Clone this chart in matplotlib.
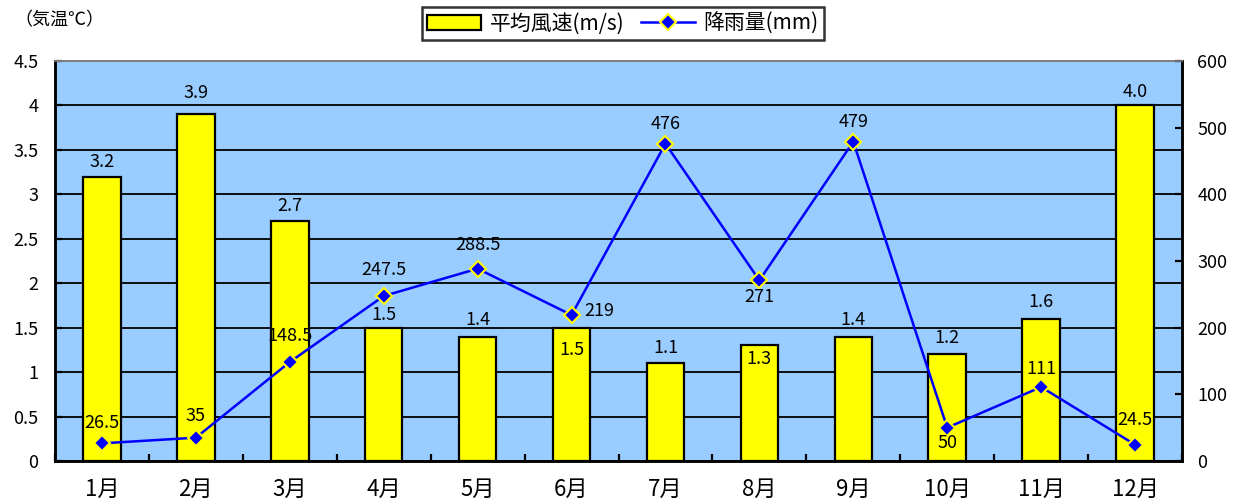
import matplotlib
matplotlib.use("Agg")
import matplotlib.pyplot as plt
import numpy as np

plt.rcParams['font.family'] = ['Noto Sans CJK JP', 'DejaVu Sans']

months = ["1月", "2月", "3月", "4月", "5月", "6月", "7月", "8月", "9月", "10月", "11月", "12月"]
wind = [3.2, 3.9, 2.7, 1.5, 1.4, 1.5, 1.1, 1.3, 1.4, 1.2, 1.6, 4.0]
rain = [26.5, 35, 148.5, 247.5, 288.5, 219, 476, 271, 479, 50, 111, 24.5]
wind_labels = ["3.2", "3.9", "2.7", "1.5", "1.4", "1.5", "1.1", "1.3", "1.4", "1.2", "1.6", "4.0"]
rain_labels = ["26.5", "35", "148.5", "247.5", "288.5", "219", "476", "271", "479", "50", "111", "24.5"]

# label offsets in pixels (dx, dy upward)
wind_off = [(0, 15), (0, 21), (0, 15), (0, 13), (0, 17), (0, -22), (0, 15), (0, -14), (0, 17), (0, 16), (0, 17), (0, 13)]
rain_off = [(0, 20), (0, 22), (0, 26), (0, 26), (0, 24), (28, 4), (0, 20), (0, -17), (0, 20), (0, -15), (0, 18), (0, 25)]

W, H = 1247, 504
fig = plt.figure(figsize=(W / 100, H / 100), dpi=100)
ax1 = fig.add_axes([55 / W, 1 - 461 / H, (1182 - 55) / W, (461 - 61) / H])
ax1.set_facecolor("#99CCFF")
ax2 = ax1.twinx()

x = np.arange(len(months))
px = 0.72  # points per pixel

ax1.set_axisbelow(True)
ax1.yaxis.grid(True, color="black", linewidth=1.3)
ax1.bar(x, wind, width=0.4, color="#FFFF00", edgecolor="black", linewidth=1.6,
        label="平均風速(m/s)", zorder=2)
ax1.set_xlim(-0.5, len(months) - 0.5)
ax1.set_ylim(0, 4.5)
ax1.set_yticks(np.arange(0, 4.51, 0.5))
ax1.set_yticklabels(["0", "0.5", "1", "1.5", "2", "2.5", "3", "3.5", "4", "4.5"])
ax1.set_xticks(x)
ax1.set_xticklabels(months)
ax1.set_xticks(np.arange(-0.5, len(months), 1), minor=True)
ax1.tick_params(axis="x", which="major", length=0, pad=12, labelsize=16)
ax1.tick_params(axis="x", which="minor", direction="in", length=5, width=1.6)
ax1.tick_params(axis="y", direction="in", length=5, width=1.6, pad=12, labelsize=13)

for i, (v, t) in enumerate(zip(wind, wind_labels)):
    dx, dy = wind_off[i]
    ax1.annotate(t, (x[i], v), xytext=(dx * px, dy * px), textcoords="offset points",
                 ha="center", va="center", fontsize=13, zorder=5)

ax2.plot(x, rain, color="#0000FF", linewidth=1.8, marker="D", markersize=8,
         markerfacecolor="#0000FF", markeredgecolor="#FFFF00", markeredgewidth=1.5,
         label="降雨量(mm)", zorder=3)
ax2.set_ylim(0, 600)
ax2.set_yticks(np.arange(0, 601, 100))
ax2.tick_params(axis="y", direction="in", length=5, width=1.6, pad=11, labelsize=13)

for i, (v, t) in enumerate(zip(rain, rain_labels)):
    dx, dy = rain_off[i]
    ax2.annotate(t, (x[i], v), xytext=(dx * px, dy * px), textcoords="offset points",
                 ha="center", va="center", fontsize=13, zorder=5)

for ax in (ax1, ax2):
    for s in ("left", "right", "bottom"):
        ax.spines[s].set_color("black")
        ax.spines[s].set_linewidth(1.8)
    ax.spines["top"].set_color("#808080")
    ax.spines["top"].set_linewidth(1.2)

h1, l1 = ax1.get_legend_handles_labels()
h2, l2 = ax2.get_legend_handles_labels()
leg = fig.legend(h1 + h2, l1 + l2, loc="center", bbox_to_anchor=(623 / W, 1 - 23.5 / H),
                 ncol=2, fontsize=15, frameon=True, fancybox=False, handlelength=2.6,
                 handleheight=0.7, columnspacing=0.8, handletextpad=0.4, borderpad=0.25)
leg.get_frame().set_edgecolor("black")
leg.get_frame().set_linewidth(1.8)

fig.text(14 / W, 1 - 20 / H, "（気温℃）", ha="left", va="center", fontsize=13)

fig.savefig("out.png", dpi=100)
